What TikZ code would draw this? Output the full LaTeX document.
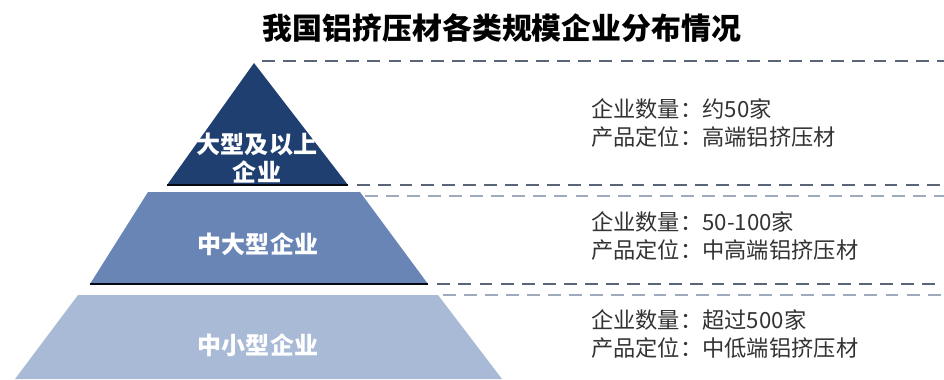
\documentclass[tikz,border=0pt]{standalone}
\usepackage{fontspec}
\setmainfont{Noto Sans CJK SC}
\usetikzlibrary{backgrounds}
\definecolor{tiertop}{HTML}{1F3F70}
\definecolor{tiermid}{HTML}{6985B6}
\definecolor{tierlow}{HTML}{A9BAD7}
\definecolor{guidedark}{HTML}{5B6578}
\definecolor{guidelight}{HTML}{9FAABD}
\definecolor{infotext}{HTML}{333333}
\newcommand{\tiersize}{\fontsize{20.5pt}{24pt}\selectfont}
\newcommand{\infosize}{\fontsize{19pt}{24pt}\selectfont}

\begin{document}
\begin{tikzpicture}[x=0.03cm,y=-0.03cm]
                \useasboundingbox (0,0) rectangle (944,379);

                \node[font=\bfseries\fontsize{25.5pt}{30pt}\selectfont] (title) at (502,28) {我国铝挤压材各类规模企业分布情况};

                \coordinate (apex) at (254,63);
                \coordinate (topL) at (167,185);
                \coordinate (topR) at (348,185);
                \coordinate (midTL) at (148,192);
                \coordinate (midTR) at (360,192);
                \coordinate (midBL) at (90,284);
                \coordinate (midBR) at (428,284);
                \coordinate (lowTL) at (78,295);
                \coordinate (lowTR) at (438,295);
                \coordinate (lowBL) at (15,379);
                \coordinate (lowBR) at (502,379);

                \fill[tiertop] (apex) -- (topR) -- (topL) -- cycle;
                \fill[tiermid] (midTL) -- (midTR) -- (midBR) -- (midBL) -- cycle;
                \fill[tierlow] (lowTL) -- (lowTR) -- (lowBR) -- (lowBL) -- cycle;

                \begin{scope}[line width=2pt,draw=black!85!tiertop]
                    \draw (topL) -- (topR);
                    \draw (midBL) -- (midBR);
                \end{scope}

                \begin{scope}[every node/.style={text=white,font=\bfseries\tiersize,align=center}]
                    \node (large) at (257,158) {大型及以上\\企业};
                    \node (medlarge) at (258,244) {中大型企业};
                    \node (medsmall) at (258,345) {中小型企业};
                \end{scope}

                \coordinate (edgeA) at (944,61);
                \coordinate (edgeB) at (944,185);
                \coordinate (edgeC) at (944,196);
                \coordinate (edgeD) at (944,284);
                \coordinate (edgeE) at (944,295);

                \begin{scope}[dash pattern=on 11pt off 7pt]
                    \draw[guidedark,line width=2.3pt] (262,61) -- (edgeA);
                    \draw[guidedark,line width=2.3pt] ([xshift=8]topR) -- (edgeB);
                    \draw[guidelight,line width=1.8pt] ([xshift=4]midTR |- edgeC) -- (edgeC);
                    \draw[guidedark,line width=2.3pt] ([xshift=8]midBR) -- (edgeD);
                    \draw[guidelight,line width=1.8pt] ([xshift=4]lowTR) -- (edgeE);
                \end{scope}

                \begin{scope}[every node/.style={text=infotext,font=\infosize,anchor=west,align=left}]
                    \node (infoA) at (587,123) {企业数量：约50家\\产品定位：高端铝挤压材};
                    \node (infoB) at (587,236) {企业数量：50-100家\\产品定位：中高端铝挤压材};
                    \node (infoC) at (587,334) {企业数量：超过500家\\产品定位：中低端铝挤压材};
                \end{scope}
            \end{tikzpicture}
\end{document}
